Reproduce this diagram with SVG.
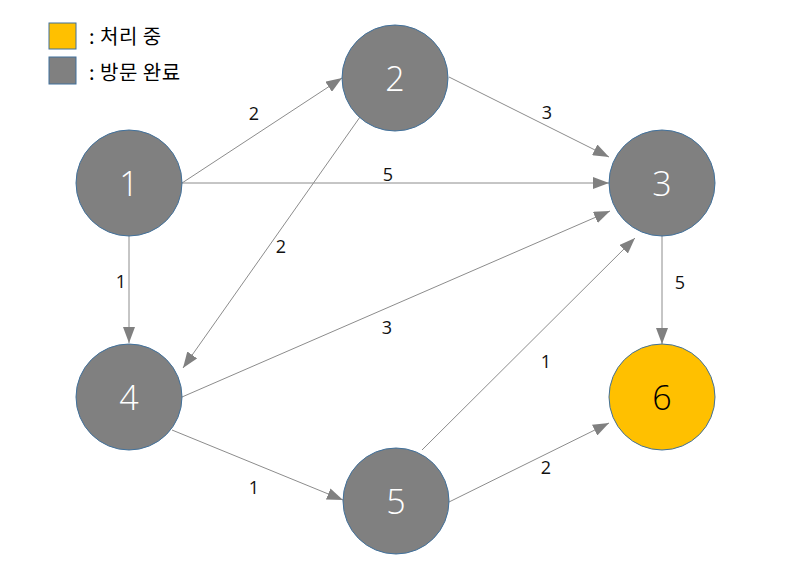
<svg xmlns="http://www.w3.org/2000/svg" width="791" height="578" viewBox="0 0 791 578">
<style>
.node circle{stroke:#41719C;stroke-width:1}
.gray{fill:#808080}
.yellow{fill:#FFC000}
.num{font-family:"Open Sans","Noto Sans",sans-serif;font-weight:300;font-size:34px;text-anchor:middle;dominant-baseline:central}
.w{fill:#FFFFFF}
.k{fill:#000000}
.edge{stroke:#8C8C8C;stroke-width:1;fill:none;marker-end:url(#arr)}
.lbl{font-family:"Open Sans","Noto Sans",sans-serif;font-size:18px;fill:#111111;text-anchor:middle;dominant-baseline:central}
.leg{font-family:"Noto Sans CJK KR","Noto Sans",sans-serif;font-size:20px;fill:#000000;dominant-baseline:central}
</style>
<defs>
<marker id="arr" viewBox="0 0 16 12" refX="16" refY="6" markerWidth="16" markerHeight="12" markerUnits="userSpaceOnUse" orient="auto">
<path d="M0,0 L16,6 L0,12 Z" fill="#808080"/>
</marker>
</defs>
<rect width="791" height="578" fill="#FFFFFF"/>
<g id="legend">
<rect x="49" y="23" width="27" height="26" fill="#FFC000" stroke="#41719C" stroke-width="1"/>
<text class="leg" x="89" y="35" letter-spacing="0.5">: 처리 중</text>
<rect x="49" y="57" width="27" height="27" fill="#808080" stroke="#41719C" stroke-width="1"/>
<text class="leg" x="89" y="71" letter-spacing="0.5">: 방문 완료</text>
</g>
<g id="connectors">
<line class="edge" x1="182" y1="183" x2="342" y2="78"/>
<line class="edge" x1="182" y1="183" x2="609" y2="183"/>
<line class="edge" x1="129" y1="236" x2="129" y2="343"/>
<line class="edge" x1="449" y1="77" x2="609" y2="157"/>
<line class="edge" x1="360" y1="117" x2="183" y2="368"/>
<line class="edge" x1="182" y1="397" x2="610" y2="211"/>
<line class="edge" x1="172" y1="430" x2="343" y2="500"/>
<line class="edge" x1="422" y1="450" x2="635" y2="238"/>
<line class="edge" x1="449" y1="502" x2="609" y2="423"/>
<line class="edge" x1="662" y1="236" x2="662" y2="344"/>
<text class="lbl" x="254" y="113">2</text>
<text class="lbl" x="388" y="174">5</text>
<text class="lbl" x="547" y="112">3</text>
<text class="lbl" x="281" y="246">2</text>
<text class="lbl" x="121" y="281">1</text>
<text class="lbl" x="387" y="327">3</text>
<text class="lbl" x="680" y="282">5</text>
<text class="lbl" x="546" y="361">1</text>
<text class="lbl" x="546" y="467">2</text>
<text class="lbl" x="254" y="487">1</text>
</g>
<g id="node1" class="node"><circle class="gray" cx="129" cy="183" r="53"/><text class="num w" x="129" y="183">1</text></g>
<g id="node2" class="node"><circle class="gray" cx="395" cy="78" r="53"/><text class="num w" x="395" y="78">2</text></g>
<g id="node3" class="node"><circle class="gray" cx="662" cy="183" r="53"/><text class="num w" x="662" y="183">3</text></g>
<g id="node4" class="node"><circle class="gray" cx="129" cy="397" r="53"/><text class="num w" x="129" y="397">4</text></g>
<g id="node5" class="node"><circle class="gray" cx="396" cy="501" r="53"/><text class="num w" x="396" y="501">5</text></g>
<g id="node6" class="node"><circle class="yellow" cx="662" cy="397" r="53"/><text class="num k" x="662" y="397">6</text></g>
</svg>
